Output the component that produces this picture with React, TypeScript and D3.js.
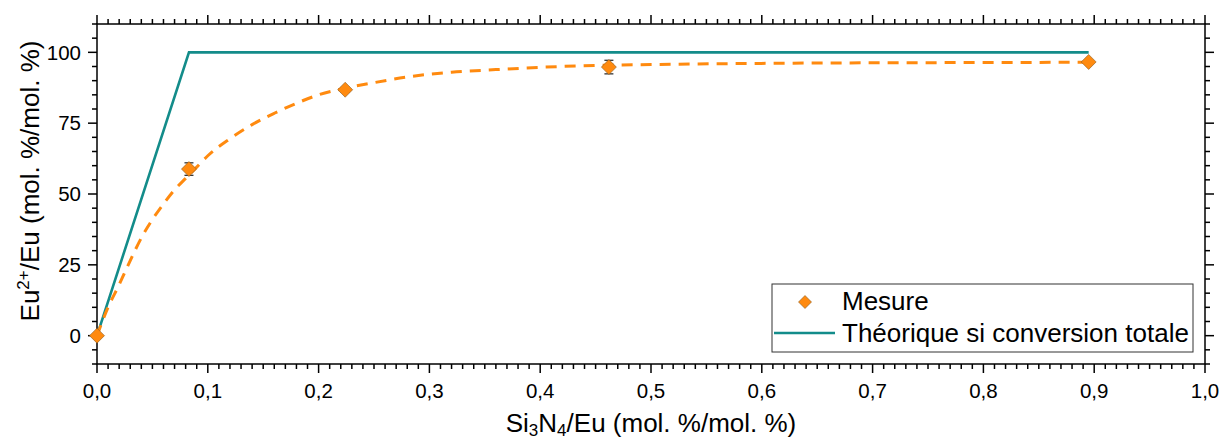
import React from "react";
import * as d3 from "d3";

// Measured points
const measX = [0, 0.083, 0.224, 0.462, 0.895];
const measY = [0, 58.8, 86.8, 94.8, 96.6];
const measErr = [0, 2.2, 0.8, 2.4, 0.6];

// Theoretical curve (total conversion)
const theoX = [0, 0.083, 0.895];
const theoY = [0, 100, 100];

// Fitted dashed curve
const fitX = [0, 0.01, 0.02, 0.03, 0.04, 0.05, 0.06, 0.07, 0.08, 0.09, 0.1, 0.12, 0.14, 0.16, 0.18, 0.2, 0.22, 0.25, 0.28, 0.32, 0.36, 0.4, 0.45, 0.5, 0.6, 0.7, 0.8, 0.895];
const fitY = [0, 10, 18, 26.5, 34.5, 41, 46.5, 51.5, 55.5, 59.5, 63.5, 69.5, 74.5, 78.5, 82, 85, 87, 89.3, 91.3, 93, 93.9, 94.7, 95.4, 95.7, 96.1, 96.3, 96.4, 96.5];

const xMajor = [0, 0.1, 0.2, 0.3, 0.4, 0.5, 0.6, 0.7, 0.8, 0.9, 1.0];
const xLabels = ["0,0", "0,1", "0,2", "0,3", "0,4", "0,5", "0,6", "0,7", "0,8", "0,9", "1,0"];
const yMajor = [0, 25, 50, 75, 100];
const yLabels = ["0", "25", "50", "75", "100"];

const W = 1221;
const H = 441;
const L = 97, R = 1205, T = 24, B = 364;
const FONT = "Liberation Sans, Arial, sans-serif";
const ORANGE = "#ff8a0f";
const TEAL = "#138c8a";

export default function App() {
  const x = d3.scaleLinear().domain([0, 1]).range([L, R]);
  const y = d3.scaleLinear().domain([-10, 110]).range([B, T]);

  const xMinor = d3.range(0, 101).map((i) => i / 100);
  const yMinor = d3.range(-10, 111, 5);

  const theoLine = d3
    .line<number>()
    .x((_, i) => x(theoX[i]))
    .y((_, i) => y(theoY[i]));
  const fitLine = d3
    .line<number>()
    .x((_, i) => x(fitX[i]))
    .y((_, i) => y(fitY[i]))
    .curve(d3.curveMonotoneX);

  const diamond = (cx: number, cy: number, r = 7.5) =>
    `M${cx},${cy - r}L${cx + r},${cy}L${cx},${cy + r}L${cx - r},${cy}Z`;

  const isMajorX = (v: number) => Math.abs(v * 10 - Math.round(v * 10)) < 1e-6;
  const isMajorY = (v: number) => v % 25 === 0;

  return (
    <svg
      width={W}
      height={H}
      style={{ position: "absolute", left: 0, top: 0, background: "#fff" }}
      fontFamily={FONT}
    >
      <rect x={0} y={0} width={W} height={H} fill="#fff" />
      {/* ticks */}
      <g stroke="#000" strokeWidth={1.5}>
        {xMinor.map((v, i) => {
          const len = isMajorX(v) ? 9 : 5;
          return (
            <g key={"xt" + i}>
              <line x1={x(v)} x2={x(v)} y1={B} y2={B + len} />
              <line x1={x(v)} x2={x(v)} y1={T} y2={T - len} />
            </g>
          );
        })}
        {yMinor.map((v, i) => {
          const len = isMajorY(v) ? 9 : 5;
          return (
            <g key={"yt" + i}>
              <line x1={L} x2={L - len} y1={y(v)} y2={y(v)} />
              <line x1={R} x2={R + len} y1={y(v)} y2={y(v)} />
            </g>
          );
        })}
      </g>
      {/* frame */}
      <rect x={L} y={T} width={R - L} height={B - T} fill="none" stroke="#000" strokeWidth={1.5} />

      {/* tick labels */}
      <g fontSize={20.5} fill="#000">
        {xMajor.map((v, i) => (
          <text key={"xl" + i} x={x(v)} y={398} textAnchor="middle">
            {xLabels[i]}
          </text>
        ))}
        {yMajor.map((v, i) => (
          <text key={"yl" + i} x={81} y={y(v) + 7.3} textAnchor="end">
            {yLabels[i]}
          </text>
        ))}
      </g>

      {/* axis titles */}
      <text x={651} y={432} textAnchor="middle" fontSize={26} fill="#000">
        Si<tspan fontSize={17} dy={4}>3</tspan>
        <tspan dy={-4}>N</tspan>
        <tspan fontSize={17} dy={4}>4</tspan>
        <tspan dy={-4}>/Eu (mol. %/mol. %)</tspan>
      </text>
      <text
        transform={`translate(39,181) rotate(-90)`}
        textAnchor="middle"
        fontSize={26}
        fill="#000"
      >
        Eu<tspan fontSize={17} dy={-10}>2+</tspan>
        <tspan dy={10}>/Eu (mol. %/mol. %)</tspan>
      </text>

      {/* theoretical line */}
      <path d={theoLine(theoX) || ""} fill="none" stroke={TEAL} strokeWidth={2.6} />
      {/* fit */}
      <path
        d={fitLine(fitX) || ""}
        fill="none"
        stroke={ORANGE}
        strokeWidth={3}
        strokeDasharray="11 8"
      />

      {/* error bars */}
      <g stroke="#222" strokeWidth={1.2}>
        {measX.map((v, i) =>
          measErr[i] > 0 ? (
            <g key={"eb" + i}>
              <line x1={x(v)} x2={x(v)} y1={y(measY[i] - measErr[i])} y2={y(measY[i] + measErr[i])} />
              <line x1={x(v) - 4.5} x2={x(v) + 4.5} y1={y(measY[i] + measErr[i])} y2={y(measY[i] + measErr[i])} />
              <line x1={x(v) - 4.5} x2={x(v) + 4.5} y1={y(measY[i] - measErr[i])} y2={y(measY[i] - measErr[i])} />
            </g>
          ) : null
        )}
      </g>
      {/* markers */}
      {measX.map((v, i) => (
        <path
          key={"m" + i}
          d={diamond(x(v), y(measY[i]))}
          fill={ORANGE}
          stroke="#8a5a20"
          strokeWidth={0.6}
        />
      ))}

      {/* legend */}
      <rect x={772} y={284} width={421} height={68} fill="#fff" stroke="#333" strokeWidth={1} />
      <path d={diamond(805, 302, 6.5)} fill={ORANGE} stroke="#8a5a20" strokeWidth={0.6} />
      <text x={842} y={310} fontSize={26} fill="#000">Mesure</text>
      <line x1={774} x2={835} y1={333} y2={333} stroke={TEAL} strokeWidth={2.6} />
      <text x={842} y={342} fontSize={26} fill="#000">Théorique si conversion totale</text>
    </svg>
  );
}
